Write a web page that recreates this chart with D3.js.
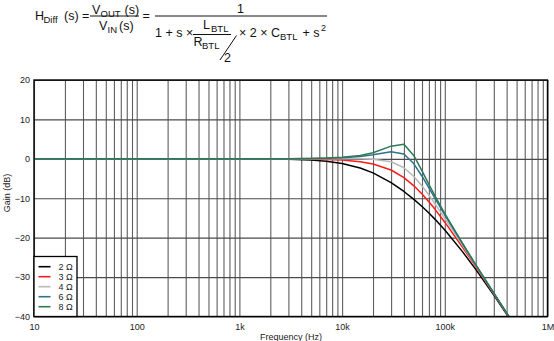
<!DOCTYPE html>
<html>
<head>
<meta charset="utf-8">
<script src="https://cdn.jsdelivr.net/npm/d3@7"></script>
<style>
  html, body { margin: 0; padding: 0; background: #fff; }
  svg { display: block; font-family: "Liberation Sans", Arial, sans-serif; }
</style>
</head>
<body>
<svg id="chart" width="554" height="341"></svg>
<script>
// Frequency points (Hz) and gain (dB) for each load resistance
const frequencies = [10, 100, 1000, 2000, 3000, 5000, 7000, 10000, 15000, 20000, 30000, 40000,
  50000, 60000, 70000, 80000, 100000, 150000, 200000, 300000, 420000];
const gain2 = [0, 0, -0.01, -0.05, -0.12, -0.32, -0.61, -1.17, -2.32, -3.57, -6.04, -8.28,
  -10.28, -12.09, -13.75, -15.29, -18.05, -23.67, -28.05, -34.59, -40.23];
const gain3 = [0, 0, 0, -0.01, -0.03, -0.08, -0.16, -0.32, -0.72, -1.29, -2.83, -4.76,
  -6.85, -8.92, -10.90, -12.75, -16.07, -22.56, -27.36, -34.27, -40.06];
const gain4 = [0, 0, 0, 0, 0, 0.01, 0.02, 0.02, 0.01, -0.08, -0.73, -2.27,
  -4.47, -6.87, -9.19, -11.34, -15.09, -22.09, -27.09, -34.14, -39.99];
const gain6 = [0, 0, 0, 0.01, 0.03, 0.07, 0.14, 0.29, 0.62, 1.05, 1.81, 1.22,
  -1.27, -4.41, -7.36, -9.95, -14.23, -21.72, -26.89, -34.06, -39.95];
const gain8 = [0, 0, 0, 0.02, 0.03, 0.10, 0.19, 0.38, 0.86, 1.53, 3.22, 3.68,
  0.81, -3.07, -6.48, -9.34, -13.88, -21.59, -26.82, -34.02, -39.93];

const seriesNames = ["2 Ω", "3 Ω", "4 Ω", "6 Ω", "8 Ω"];
const seriesColors = ["#000000", "#ff1a1a", "#b8b8b8", "#336f8f", "#2c7a55"];
const seriesValues = [gain2, gain3, gain4, gain6, gain8];

const yTicks = [20, 10, 0, -10, -20, -30, -40];
const xDecades = [10, 100, 1000, 10000, 100000, 1000000];
const xTickLabels = ["10", "100", "1k", "10k", "100k", "1M"];

const svg = d3.select("#chart");
const plotLeft = 34, plotRight = 547.5, plotTop = 80, plotBottom = 316.5;

const x = d3.scaleLog().domain([10, 1e6]).range([plotLeft, plotRight]);
const y = d3.scaleLinear().domain([-40, 20]).range([plotBottom, plotTop]);

// ---- transfer function heading ----
const eq = svg.append("g").attr("fill", "#111").attr("font-size", 12.5);
function put(txt, px, py, size) {
  eq.append("text").attr("x", px).attr("y", py).attr("font-size", size || 12.5).text(txt);
}
put("H", 35, 20); put("Diff", 43.5, 23, 9.5); put("(s) =", 64, 20);
put("V", 92, 13.5); put("OUT", 100.5, 16.5, 9.5); put("(s)", 124.5, 13.5);
eq.append("line").attr("x1", 90).attr("x2", 139).attr("y1", 16).attr("y2", 16)
  .attr("stroke", "#111").attr("stroke-width", 1);
put("V", 99, 30); put("IN", 107.5, 33, 9.5); put("(s)", 119, 30);
put("=", 142.5, 20);
eq.append("line").attr("x1", 155).attr("x2", 327).attr("y1", 16).attr("y2", 16)
  .attr("stroke", "#111").attr("stroke-width", 1);
put("1", 237, 12.5);
put("1 + s ×", 155, 37);
put("L", 203, 28.5); put("BTL", 211, 31.5, 9.5);
eq.append("line").attr("x1", 193).attr("x2", 231).attr("y1", 34.5).attr("y2", 34.5)
  .attr("stroke", "#111").attr("stroke-width", 1);
put("R", 193.5, 45.5); put("BTL", 202, 48.5, 9.5);
eq.append("line").attr("x1", 236.5).attr("y1", 35.5).attr("x2", 220).attr("y2", 60)
  .attr("stroke", "#111").attr("stroke-width", 1);
put("2", 224, 62);
put("× 2 × C", 239, 37); put("BTL", 280, 40, 9.5);
put("+ s", 302.5, 37); put("2", 321, 31, 9);

// ---- grid ----
const grid = svg.append("g");
grid.append("g")
  .attr("transform", `translate(0,${plotBottom})`)
  .call(d3.axisBottom(x).tickSize(-(plotBottom - plotTop)).tickFormat(""))
  .call(g => g.select(".domain").remove())
  .call(g => g.selectAll(".tick line").attr("stroke", "#5e5e5e").attr("stroke-width", 1.1));
grid.append("g")
  .attr("transform", `translate(${plotLeft},0)`)
  .call(d3.axisLeft(y).tickValues(yTicks).tickSize(-(plotRight - plotLeft)).tickFormat(""))
  .call(g => g.select(".domain").remove())
  .call(g => g.selectAll(".tick line").attr("stroke", "#4a4a4a").attr("stroke-width", 1.1));

// ---- axis labels ----
svg.append("g")
  .attr("transform", `translate(${plotLeft - 4},0)`)
  .call(d3.axisLeft(y).tickValues(yTicks).tickSize(0).tickPadding(0).tickFormat(d3.format("d")))
  .call(g => g.select(".domain").remove())
  .call(g => g.selectAll("text").attr("font-size", 9).attr("fill", "#222")
    .attr("font-family", "Liberation Sans, Arial, sans-serif"));

svg.append("g")
  .attr("transform", `translate(0,${plotBottom})`)
  .call(d3.axisBottom(x).tickValues(xDecades).tickSize(0).tickPadding(7)
    .tickFormat((d, i) => xTickLabels[i]))
  .call(g => g.select(".domain").remove())
  .call(g => g.selectAll("text").attr("font-size", 9).attr("fill", "#222")
    .attr("font-family", "Liberation Sans, Arial, sans-serif"));

svg.append("text").attr("x", 291).attr("y", 339.5).attr("text-anchor", "middle")
  .attr("font-size", 9).attr("fill", "#222").text("Frequency (Hz)");
svg.append("text").attr("transform", "translate(10,193) rotate(-90)")
  .attr("text-anchor", "middle").attr("font-size", 9).attr("fill", "#222").text("Gain (dB)");

// ---- curves ----
svg.append("clipPath").attr("id", "plotClip").append("rect")
  .attr("x", plotLeft).attr("y", plotTop)
  .attr("width", plotRight - plotLeft).attr("height", plotBottom - plotTop);

const line = d3.line().x(d => x(d[0])).y(d => y(d[1]));
const curves = svg.append("g").attr("clip-path", "url(#plotClip)");
seriesValues.forEach((vals, i) => {
  curves.append("path")
    .datum(frequencies.map((f, j) => [f, vals[j]]))
    .attr("d", line)
    .attr("fill", "none")
    .attr("stroke", seriesColors[i])
    .attr("stroke-width", 1.5)
    .attr("stroke-linejoin", "round");
});

// ---- plot frame ----
svg.append("rect").attr("x", plotLeft).attr("y", plotTop)
  .attr("width", plotRight - plotLeft).attr("height", plotBottom - plotTop)
  .attr("fill", "none").attr("stroke", "#000").attr("stroke-width", 1.4);

// ---- legend ----
const legend = svg.append("g");
legend.append("rect").attr("x", plotLeft).attr("y", 256.5)
  .attr("width", 43).attr("height", plotBottom - 256.5)
  .attr("fill", "#fff").attr("stroke", "#000").attr("stroke-width", 1.3);
seriesNames.forEach((name, i) => {
  const ly = 266.7 + i * 10;
  legend.append("line").attr("x1", 38.5).attr("x2", 50.5).attr("y1", ly).attr("y2", ly)
    .attr("stroke", seriesColors[i]).attr("stroke-width", 1.6);
  legend.append("text").attr("x", 58.5).attr("y", ly + 3.2).attr("font-size", 9)
    .attr("fill", "#222").text(name);
});
</script>
</body>
</html>
